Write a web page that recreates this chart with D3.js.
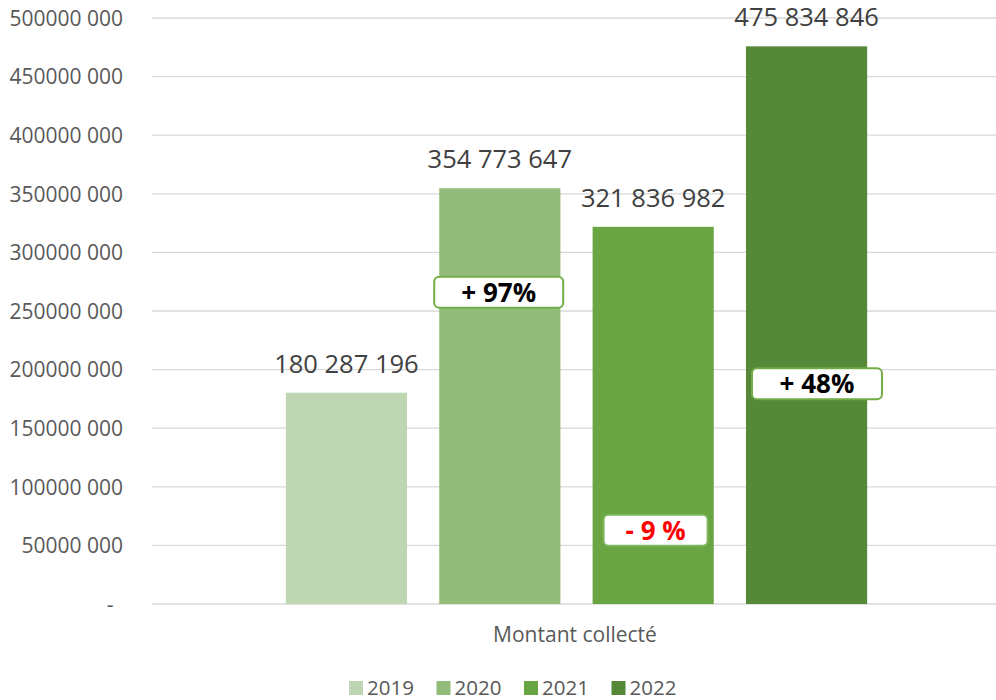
<!DOCTYPE html>
<html>
<head>
<meta charset="utf-8">
<script src="https://cdn.jsdelivr.net/npm/d3@7"></script>
<style>
  body { margin: 0; background: #fff; }
  text { font-family: "Open Sans", "Noto Sans", sans-serif; }
</style>
</head>
<body>
<div class="chart"></div>
<script>
// data
var category = "Montant collecté";
var years = ["2019", "2020", "2021", "2022"];
var amounts = [180287196, 354773647, 321836982, 475834846];
var yTicks = [0, 50000000, 100000000, 150000000, 200000000, 250000000, 300000000, 350000000, 400000000, 450000000, 500000000];
var changes = ["+ 97%", "- 9 %", "+ 48%"];

var colors = ["#bfd6b3", "#93bc7b", "#6aa544", "#558837"];

var svgWidth = 996;
var svgHeight = 700;

var svg = d3.select(".chart")
  .append("svg")
  .attr("width", svgWidth)
  .attr("height", svgHeight);

var plot = { left: 152, right: 996, top: 18, bottom: 604 };

var y = d3.scaleLinear()
  .domain([0, 500000000])
  .range([plot.bottom, plot.top]);

var x0 = d3.scaleBand()
  .domain([category])
  .range([plot.left, plot.right]);

var x1 = d3.scaleBand()
  .domain(years)
  .range([5, x0.bandwidth()])
  .paddingInner(0.21)
  .paddingOuter(0.84);

function fmt(v) {
  return d3.format(",")(v).replace(/,/g, " ");
}

// gridlines
svg.append("g")
  .selectAll("line")
  .data(yTicks)
  .enter()
  .append("line")
  .attr("x1", plot.left)
  .attr("x2", plot.right)
  .attr("y1", d => y(d))
  .attr("y2", d => y(d))
  .attr("stroke", "#d9d9d9")
  .attr("stroke-width", 1.3);

// y axis labels
var leftAxis = d3.axisLeft(y)
  .tickValues(yTicks)
  .tickSize(0)
  .tickPadding(0)
  .tickFormat(function (d) {
    if (d === 0) return "-";
    var s = String(d);
    return s.slice(0, s.length - 3) + " " + s.slice(-3);
  });

var yAxis = svg.append("g")
  .attr("transform", "translate(123,0)")
  .call(leftAxis);
yAxis.select(".domain").remove();
yAxis.selectAll("text")
  .attr("fill", "#595959")
  .attr("font-size", "21px")
  .attr("dy", "0.35em");
yAxis.selectAll(".tick")
  .filter(d => d === 0)
  .select("text")
  .attr("text-anchor", "middle")
  .attr("x", -13);

// bars
var group = svg.append("g")
  .attr("transform", `translate(${x0(category)},0)`);

group.selectAll("rect")
  .data(years)
  .enter()
  .append("rect")
  .attr("x", d => x1(d))
  .attr("width", x1.bandwidth())
  .attr("y", (d, i) => y(amounts[i]))
  .attr("height", (d, i) => y(0) - y(amounts[i]))
  .attr("fill", (d, i) => colors[i]);

// value labels
group.selectAll(".value")
  .data(years)
  .enter()
  .append("text")
  .attr("class", "value")
  .attr("x", d => x1(d) + x1.bandwidth() / 2)
  .attr("y", (d, i) => y(amounts[i]) - 20)
  .attr("text-anchor", "middle")
  .attr("fill", "#404040")
  .attr("font-size", "25.5px")
  .text((d, i) => fmt(amounts[i]));

// change callouts (anchored on the later year's bar)
var callouts = [
  { year: "2020", level: 266000000, dx: -5, w: 129, color: "#000", stroke: "#70ad47" },
  { year: "2021", level: 63000000, dx: 11, w: 104, color: "#ff0000", stroke: "#7db65a" },
  { year: "2022", level: 188000000, dx: 6, w: 130, color: "#000", stroke: "#70ad47" }
];

var co = group.selectAll(".callout")
  .data(callouts)
  .enter()
  .append("g")
  .attr("class", "callout")
  .attr("transform", d => `translate(${x1(d.year) + d.dx},${y(d.level)})`);

co.append("rect")
  .attr("x", 0)
  .attr("y", -15.5)
  .attr("width", d => d.w)
  .attr("height", 31)
  .attr("rx", 5)
  .attr("fill", "#fff")
  .attr("stroke", d => d.stroke)
  .attr("stroke-width", 2);

co.append("text")
  .attr("x", d => d.w / 2)
  .attr("y", 0)
  .attr("dy", "0.36em")
  .attr("text-anchor", "middle")
  .attr("font-weight", "bold")
  .attr("font-size", "26px")
  .attr("fill", d => d.color)
  .text((d, i) => changes[i]);

// category label
svg.append("text")
  .attr("x", x0(category) + x0.bandwidth() / 2 + 1)
  .attr("y", 642)
  .attr("text-anchor", "middle")
  .attr("fill", "#595959")
  .attr("font-size", "21px")
  .text(category);

// legend
var legend = svg.append("g")
  .attr("transform", "translate(349,688)");

var item = legend.selectAll("g")
  .data(years)
  .enter()
  .append("g")
  .attr("transform", (d, i) => `translate(${i * 87.5},0)`);

item.append("rect")
  .attr("x", 0)
  .attr("y", -7)
  .attr("width", 14)
  .attr("height", 14)
  .attr("fill", (d, i) => colors[i]);

item.append("text")
  .attr("x", 18)
  .attr("y", 0)
  .attr("dy", "0.36em")
  .attr("fill", "#595959")
  .attr("font-size", "20.5px")
  .text(d => d);
</script>
</body>
</html>
